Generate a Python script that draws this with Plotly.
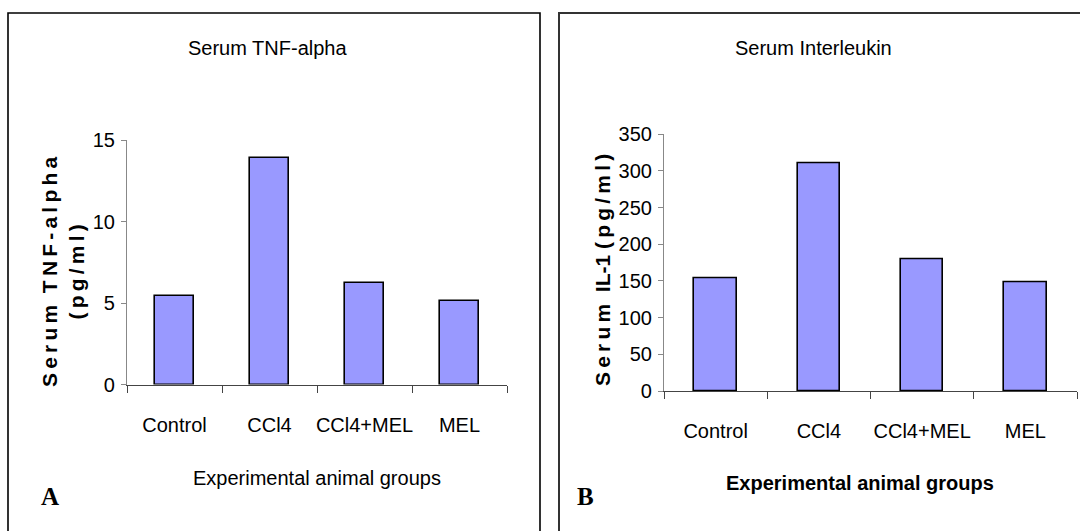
import plotly.graph_objects as go

# Experimental groups shared by both panels
groups = ["Control", "CCl4", "CCl4+MEL", "MEL"]

# Panel A: serum TNF-alpha (pg/ml)
tnf_alpha = [5.45, 13.9, 6.25, 5.1]

# Panel B: serum IL-1 (pg/ml)
il_1 = [154, 311, 179, 148]

W, H = 1080, 531
SANS = "Liberation Sans, Arial, sans-serif"
SERIF = "Liberation Serif, Times New Roman, serif"
BAR_FILL = "#9999FF"
LABEL_SIZE = 20


def px(x):
    return x / W


def py(y):
    return 1 - y / H


fig = go.Figure()

fig.add_trace(go.Bar(
    x=groups, y=tnf_alpha, width=0.42,
    marker=dict(color=BAR_FILL, line=dict(color="black", width=1.6)),
    xaxis="x", yaxis="y", showlegend=False,
))
fig.add_trace(go.Bar(
    x=groups, y=il_1, width=0.41,
    marker=dict(color=BAR_FILL, line=dict(color="black", width=1.6)),
    xaxis="x2", yaxis="y2", showlegend=False,
))

xaxis_common = dict(
    type="category", showgrid=False, zeroline=False, automargin=False,
    showline=True, linecolor="#444444", linewidth=1.2,
    ticks="outside", tickson="boundaries", ticklen=7, tickcolor="#444444",
    tickfont=dict(family=SANS, size=LABEL_SIZE, color="black"),
    tickangle=0, ticklabelstandoff=22, fixedrange=True,
)
yaxis_common = dict(
    showgrid=False, zeroline=False, automargin=False,
    showline=True, linecolor="#888888", linewidth=1.2,
    ticks="outside", ticklen=5, tickcolor="#888888",
    tickfont=dict(family=SANS, size=LABEL_SIZE, color="black"),
    ticklabelstandoff=2, fixedrange=True,
)

fig.update_layout(
    width=W, height=H,
    margin=dict(l=0, r=0, t=0, b=0, pad=0),
    paper_bgcolor="white", plot_bgcolor="white",
    bargap=0,
    xaxis=dict(domain=[px(127), px(507)], anchor="y", **xaxis_common),
    yaxis=dict(domain=[py(384.5), py(140)], anchor="x", range=[0, 15],
               tickvals=[0, 5, 10, 15], **yaxis_common),
    xaxis2=dict(domain=[px(664), px(1077)], anchor="y2", **xaxis_common),
    yaxis2=dict(domain=[py(391), py(134.3)], anchor="x2", range=[0, 350],
                tickvals=list(range(0, 351, 50)), **yaxis_common),
)

# Panel frames
fig.add_shape(type="rect", xref="paper", yref="paper",
              x0=px(8), x1=px(540), y0=py(545), y1=py(13),
              line=dict(color="black", width=1.6), fillcolor="rgba(0,0,0,0)")
fig.add_shape(type="rect", xref="paper", yref="paper",
              x0=px(559), x1=px(1090), y0=py(545), y1=py(13),
              line=dict(color="#333333", width=2), fillcolor="rgba(0,0,0,0)")

T = "\u2009"  # thin space used for the letter-spaced axis titles


def spaced(s):
    return T.join(s)


annotations = [
    # chart titles
    dict(x=px(267), y=py(48), text="Serum TNF-alpha",
         font=dict(family=SANS, size=LABEL_SIZE, color="black")),
    dict(x=px(813), y=py(48), text="Serum Interleukin",
         font=dict(family=SANS, size=LABEL_SIZE, color="black")),
    # y-axis titles
    dict(x=px(63), y=py(272), textangle=-90,
         text=spaced("Serum") + "  " + spaced("TNF-alpha") + "<br>" + spaced("(pg/ml)"),
         font=dict(family=SANS, size=21, color="black", weight="bold")),
    dict(x=px(602), y=py(270), textangle=-90,
         text=spaced("Serum") + "  IL-1 " + spaced("(pg/ml)"),
         font=dict(family=SANS, size=21, color="black", weight="bold")),
    # x-axis titles
    dict(x=px(317), y=py(478), text="Experimental animal groups",
         font=dict(family=SANS, size=LABEL_SIZE, color="black")),
    dict(x=px(860), y=py(483), text="Experimental animal groups",
         font=dict(family=SANS, size=LABEL_SIZE, color="black", weight="bold")),
    # panel letters
    dict(x=px(50), y=py(496), text="A",
         font=dict(family=SERIF, size=25, color="black", weight="bold")),
    dict(x=px(585), y=py(496), text="B",
         font=dict(family=SERIF, size=25, color="black", weight="bold")),
]
for a in annotations:
    a.update(xref="paper", yref="paper", showarrow=False,
             xanchor="center", yanchor="middle")
fig.update_layout(annotations=annotations)

fig.write_html("out.html")
